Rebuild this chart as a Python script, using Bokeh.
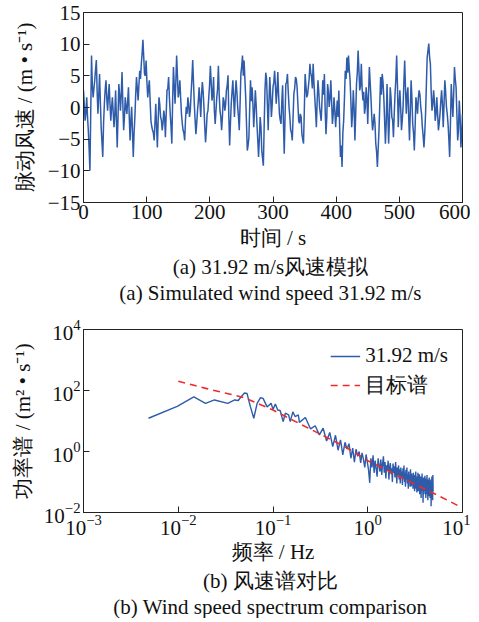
import numpy as np
from bokeh.plotting import figure
from bokeh.layouts import column
from bokeh.models import FixedTicker, Title, Range1d, Legend, LegendItem
from bokeh.embed import file_html
from bokeh.resources import INLINE

# ---------------- data ----------------
wind_main = [
    2.7, -2.1, 1.6, -3.6, -10.0, 8.2, 1.6, 4.3, 7.5, -1.0, 5.3, -3.1, -7.8, 0.6, 4.3, -0.5,
    3.7, -2.1, 1.6, -3.1, 2.7, -6.3, 3.7, -0.5, 5.6, -3.6, 1.6, -1.0, 3.2, -5.2, 0.1, -7.8,
    -1.5, 4.8, 1.1, 5.8, 6.9, 10.7, 5.3, 7.4, 1.6, 4.3, -2.1, -3.6, -5.2, 0.6, -6.3, 1.6,
    -1.5, -3.6, -0.5, -4.7, 2.7, 4.8, -1.0, -5.7, 6.4, 0.6, 8.2, 1.6, 4.3, -1.0, -3.6, -5.2,
    0.1, 1.6, -1.5, 2.2, 7.5, 0.6, -4.2, -0.5, 3.2, -1.5, 4.0, 0.1, -5.5, -1.0, 1.6, 6.6,
    1.1, 4.8, -2.6, 1.6, 6.6, -0.5, -3.6, 1.6, -0.5, 2.7, 5.1, -6.0, 0.6, 4.3, -1.5,
    4.3, 0.1, -3.6, 5.3, 8.2, 7.4, 1.6, -6.8, -4.7, 4.3, 3.2, -3.1, 2.7, -2.6, -7.8, -1.5,
    -6.8, -9.2, 2.7, 4.5, -3.6, 4.8, -1.5, 3.2, 5.8, 0.6, 5.6, -1.0, -2.6, 3.5, -7.3, 3.7,
    5.3, 0.1, -3.6, -5.2, 2.2, 4.8, 3.2, -2.1, -1.0, -4.2, -5.7, 5.3, 1.6, 3.2, 6.9,
    4.8, 6.9, 1.6, -3.1, 4.3, 0.1, -2.1, 4.3, 5.3, -4.2, 3.7, 0.1, 4.3, -2.6, 1.6, -3.1,
    1.1, 2.7, -7.8, -9.4, -2.1, 5.8, 7.9, 8.2, 4.3, -3.1, 2.7, -5.2, 3.7, 9.0, 2.7, 6.9,
    1.1, -1.0, 3.2, -2.6, 6.4, 1.6, -3.6, -1.0, -5.7, -9.4, -3.6, 4.8, 5.3, 1.6, -5.7,
    3.7, -5.7, 3.2, -1.5, -4.7, 2.2, 8.2, -3.1, 2.7, -3.6, 0.1, 7.4, -1.0, 3.2, -5.2, 4.3,
    -2.6, -6.8, 1.6, -1.0, 2.7, 0.1, -3.1, -6.3, -1.0, 7.9, 10.1, 6.9, -0.5, 2.7, -2.1, 1.6,
    -3.6, -1.0, 2.7, -3.1, 4.3, 0.1, -2.6, -7.8, 3.7, -1.5, 6.4, 3.2, -5.2, 1.1, -6.3, -1.0,
]
wind_between = [
    0.4, -0.8, -1.5, -6.5, -1.0, 3.5, 3.0, 6.0, 2.5, 2.0, 1.0, -5.5, -2.5, 2.8, 1.5, 1.8,
    0.5, 0.0, -0.8, -1.0, -2.0, -1.5, 2.0, 2.0, 0.5, -1.5, 0.0, 1.0, -1.5, -2.0, -4.0, -4.0,
    2.0, 3.0, 3.5, 4.5, 8.5, 8.0, 5.0, 4.0, 3.0, 1.0, -3.0, -4.0, -2.5, -3.0, -2.0,
    0.5, -2.0, -2.5, -1.5, -1.0, 3.0, 1.5, -3.0, 1.0, 3.5, 4.0, 5.0, 2.5, 1.5, -2.5, -4.0,
    -2.0, -1.0, 0.5, -0.5, 4.5, 4.0, -2.0, -2.5, 1.0, 1.0, 2.0, 2.5, -3.0, -3.5, -0.5, 3.5,
    4.0, 2.0, -0.5, -0.5, 3.0, 2.0, -1.5, -1.5, 1.0, 0.5, 3.5, -1.5, -2.5, 2.5, 1.5,
    2.0, 2.5, -1.5, 0.5, 6.5, 5.0, 4.5, -2.5, -6.0, 0.0, 1.0, 0.5, -0.5, 0.5, -5.0, -5.0,
    -3.0, -8.0, -3.0, 5.5, 0.5, 1.0, 2.0, 0.5, 4.0, 3.5, 2.5, 2.0, -2.0, 1.0, -2.5, -1.5,
    4.0, 2.5, -1.5, -4.0, -1.5, 3.0, 4.5, 0.5, -2.5, -1.5, -5.0, -0.5, 3.5, 2.0, 4.5,
    5.5, 3.0, 4.0, -0.5, 1.0, 2.5, -1.0, 1.0, 2.0, -0.5, -1.5, 2.5, 1.5, 1.0, -1.0, -0.5,
    -1.0, -1.5, -3.0, -6.0, -4.0, 1.5, 4.5, 5.5, 6.0, 1.0, -1.0, 0.0, -1.0, 5.5, 6.0, 3.5,
    3.0, 2.5, 0.0, 1.5, 2.0, 4.0, -1.5, -2.5, -2.5, -7.0, -6.5, 0.5, 2.0, 4.0, -2.0,
    -2.5, -1.0, -2.0, 1.5, -2.0, -1.0, 4.5, 3.5, 0.5, 0.0, -2.0, 4.0, 3.0, 2.0, -1.5, -0.5,
    1.5, -4.0, -3.0, 0.5, 1.5, 2.0, -1.0, -4.5, -4.0, 3.5, 9.0, 8.0, 2.5, 0.5, 1.0, -1.0,
    -1.0, -2.5, 1.0, 0.5, 0.5, 2.5, -1.0, -5.0, -2.5, 1.0, 2.0, 4.5, -1.0, -3.5, -1.5, -4.0,
]
record_length = 600  # s

sim_freq_low = [
    0.00485, 0.00975, 0.0146, 0.0194, 0.0241, 0.0333, 0.0394, 0.043, 0.0454, 0.050, 0.0532,
    0.0578, 0.0627, 0.068, 0.0738, 0.0786, 0.0867, 0.0955, 0.100, 0.106, 0.112, 0.119,
    0.128, 0.135, 0.146, 0.152, 0.162, 0.171, 0.185,
]
sim_psd_low = [
    12.3, 30, 62, 38, 49, 38, 49, 47, 59, 83, 80,
    29, 12.3, 38, 58, 55, 29, 38, 24, 36, 23, 22,
    9.5, 18, 16, 9.5, 20, 14, 16,
]
sim_f_start, sim_f_end = 0.19, 4.9
sim_psd_high = [
    9, 13, 5.5, 7, 3.5, 5.8, 2.2, 4.2, 1.45, 3.4,
    1.1, 2.4, 0.78, 2.0, 1.2, 1.8, 0.6, 1.3, 0.45, 1.2,
    0.7, 1.0, 0.42, 0.9, 0.55, 0.3, 0.8, 0.45, 0.25, 0.094,
    0.6, 0.3, 0.75, 0.2, 0.5, 0.28, 0.15, 0.6, 0.35, 0.22,
    0.55, 0.17, 0.4, 0.7, 0.2, 0.45, 0.13, 0.35, 0.25, 0.5,
    0.12, 0.3, 0.42, 0.18, 0.28, 0.1, 0.4, 0.2, 0.33, 0.14,
    0.45, 0.22, 0.09, 0.3, 0.17, 0.35, 0.12, 0.26, 0.09, 0.3,
    0.15, 0.22, 0.08, 0.28, 0.13, 0.35, 0.1, 0.2, 0.07, 0.25,
    0.12, 0.3, 0.09, 0.18, 0.06, 0.22, 0.1, 0.16, 0.07, 0.26,
    0.11, 0.072, 0.19, 0.09, 0.15, 0.06, 0.2, 0.1, 0.13, 0.05,
    0.17, 0.08, 0.22, 0.06, 0.12, 0.045, 0.15, 0.09, 0.2, 0.05,
    0.13, 0.07, 0.18, 0.04, 0.1, 0.06, 0.15, 0.03, 0.12, 0.07,
    0.19, 0.05, 0.1, 0.021, 0.08, 0.14, 0.04, 0.09, 0.06, 0.16,
    0.05, 0.1, 0.03, 0.13, 0.07, 0.04, 0.17, 0.06, 0.09, 0.025,
    0.12, 0.05, 0.08, 0.035, 0.14, 0.06, 0.1, 0.03, 0.09, 0.05,
    0.12, 0.016, 0.08, 0.04, 0.15, 0.05, 0.09, 0.025, 0.17, 0.05,
]

target_freq = [0.01, 0.015, 0.02, 0.03, 0.04, 0.05, 0.07, 0.1, 0.15, 0.2, 0.3, 0.5, 0.7,
               1.0, 1.5, 2.0, 3.0, 5.0, 7.0, 9.0]
target_psd = [200, 145, 115, 85, 69, 58, 37, 23, 12, 7.6, 4.0, 1.8, 1.0,
              0.5, 0.27, 0.17, 0.091, 0.042, 0.025, 0.0166]

t_ticks = [0, 100, 200, 300, 400, 500, 600]
u_ticks = [-15, -10, -5, 0, 5, 10, 15]
f_ticks = [1e-3, 1e-2, 1e-1, 1e0, 1e1]
s_ticks = [1e-2, 1e0, 1e2, 1e4]

wind = []
for i, v in enumerate(wind_main):
    wind.append(v)
    if i < len(wind_between) and i < len(wind_main) - 1:
        wind.append(wind_between[i])
time_s = np.linspace(0, record_length, len(wind))

sim_freq = list(sim_freq_low) + list(np.linspace(sim_f_start, sim_f_end, len(sim_psd_high)))
sim_psd = list(sim_psd_low) + list(sim_psd_high)

FONT = "Liberation Serif"
BLUE = "#2e5caa"
RED = "#ee2a2a"
FS = "21px"


def style_axes(p):
    for ax in (p.xaxis[0], p.yaxis[0]):
        ax.major_tick_in = 6
        ax.major_tick_out = 0
        ax.minor_tick_line_color = None
        ax.axis_line_color = "#222222"
        ax.major_tick_line_color = "#222222"
        ax.major_label_text_font = FONT
        ax.major_label_text_font_size = FS
        ax.major_label_text_color = "#111111"
        ax.axis_label_text_font = FONT
        ax.axis_label_text_font_size = FS
        ax.axis_label_text_font_style = "normal"
        ax.axis_label_text_color = "#111111"
    p.outline_line_color = "#222222"
    p.outline_line_width = 1
    p.outline_line_alpha = 1
    p.xgrid.visible = False
    p.ygrid.visible = False


def add_caption(p, text, standoff):
    t = Title(text=text, align="center", text_font=FONT, text_font_size=FS,
              text_font_style="normal", text_color="#111111", standoff=standoff)
    p.add_layout(t, "below")


p1 = figure(width=470, height=310, output_backend="svg", toolbar_location=None,
            x_range=Range1d(0, 600), y_range=Range1d(-15, 15),
            min_border_left=83, min_border_right=8, min_border_top=12, min_border_bottom=108)
p1.line(time_s, wind, line_color=BLUE, line_width=1.5)
style_axes(p1)
p1.xaxis.ticker = FixedTicker(ticks=t_ticks)
p1.yaxis.ticker = FixedTicker(ticks=u_ticks)
p1.yaxis.major_label_overrides = {-15: "\u221215", -10: "\u221210", -5: "\u22125"}
p1.xaxis.axis_label = "时间 / s"
p1.yaxis.axis_label = "脉动风速 / (m • s\u207b\u00b9)"
p1.xaxis.major_label_standoff = 2
p1.yaxis.major_label_standoff = 3
p1.xaxis.axis_label_standoff = 4
p1.yaxis.axis_label_standoff = 8
add_caption(p1, "(a)  31.92 m/s风速模拟", 0)
add_caption(p1, "(a)  Simulated wind speed 31.92 m/s", 0)

p2 = figure(width=470, height=308, output_backend="svg", toolbar_location=None,
            x_axis_type="log", y_axis_type="log",
            x_range=Range1d(1e-3, 1e1), y_range=Range1d(1e-2, 1e4),
            min_border_left=83, min_border_right=8, min_border_top=19, min_border_bottom=104)
r_sim = p2.line(sim_freq, sim_psd, line_color=BLUE, line_width=1.4)
r_tgt = p2.line(target_freq, target_psd, line_color=RED, line_width=1.6, line_dash="7 5")
style_axes(p2)
p2.xaxis.ticker = FixedTicker(ticks=f_ticks)
p2.yaxis.ticker = FixedTicker(ticks=s_ticks)
p2.xaxis.axis_label = "频率 / Hz"
p2.yaxis.axis_label = "功率谱 / (m\u00b2 • s\u207b\u00b9)"
p2.xaxis.major_label_standoff = 2
p2.yaxis.major_label_standoff = 3
p2.xaxis.axis_label_standoff = 2
p2.yaxis.axis_label_standoff = 6

legend = Legend(items=[LegendItem(label="31.92 m/s", renderers=[r_sim]),
                       LegendItem(label="目标谱", renderers=[r_tgt])],
                location="top_right", border_line_alpha=0, background_fill_alpha=0,
                label_text_font=FONT, label_text_font_size=FS,
                label_text_color="#111111",
                glyph_width=30, spacing=3, margin=10, padding=4)
p2.add_layout(legend)
add_caption(p2, "(b)  风速谱对比", 0)
add_caption(p2, "(b)  Wind speed spectrum comparison", 0)

layout = column(p1, p2, spacing=0)
open("out.html", "w").write(file_html(layout, INLINE))
